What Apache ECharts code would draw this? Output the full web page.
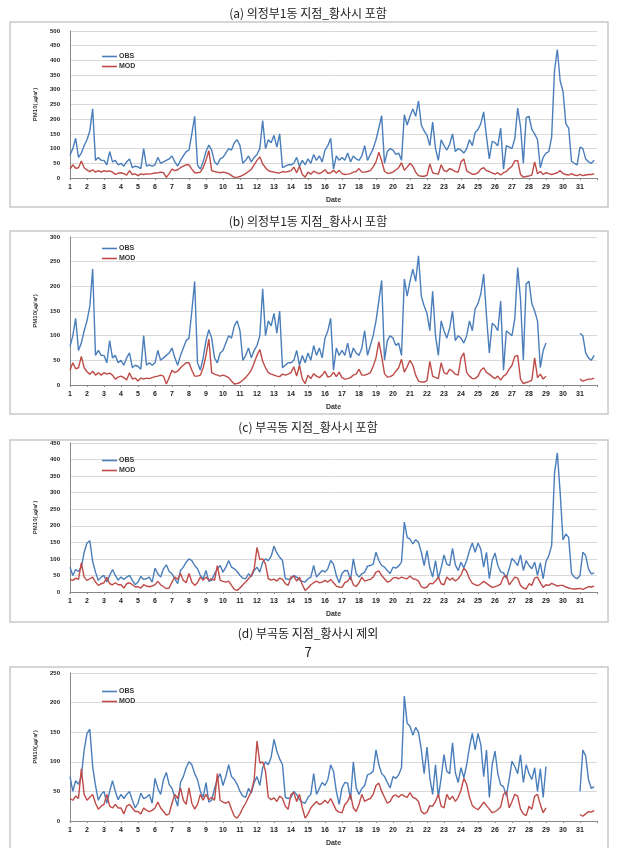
<!DOCTYPE html>
<html>
<head>
<meta charset="utf-8">
<script src="https://cdn.jsdelivr.net/npm/echarts@6/dist/echarts.min.js"></script>
<style>
html,body{margin:0;padding:0;background:#fff;}
#chart{width:617px;height:848px;}
</style>
</head>
<body>
<div id="chart"></div>
<script>
// ---- Data: 6 samples per day (every 4 h), day 1 00h .. day 31 20h ----
const PER_DAY = 6;
const DAY_START = 1;
const dayLabels = Array.from({length: 31}, (_, i) => String(i + 1));
const seriesNames = ['OBS', 'MOD'];
const panelTitles = [
  '(a) 의정부1동 지점_황사시 포함',
  '(b) 의정부1동 지점_황사시 포함',
  '(c) 부곡동 지점_황사시 포함',
  '(d) 부곡동 지점_황사시 제외'
];
const yMaxes = [500, 300, 450, 250];
const dustGap = [29, 31]; // days removed in panels (b) and (d)

// 의정부1동 OBS
const obsA = [
  78,100,135,70,85,110,  130,160,235,60,70,60,  60,45,90,55,60,45,  50,40,55,65,35,40,
  38,32,100,40,45,40,  45,70,50,55,60,65,  75,55,40,60,75,90,  95,150,210,45,30,55,
  90,112,95,55,45,65,  70,85,100,95,120,130,  110,50,60,75,55,70,  80,100,195,100,130,120,
  145,105,150,35,40,45,  45,50,70,40,60,45,  65,50,80,60,75,55,  95,110,135,30,75,60,
  70,60,85,55,75,65,  60,75,110,60,80,100,  130,170,212,50,90,100,  95,80,85,60,215,180,
  210,235,210,262,180,160,  145,110,190,100,60,130,  110,95,115,150,90,100,  95,85,100,130,110,155,
  165,185,225,140,65,125,  120,110,170,30,110,105,  100,135,238,175,50,205,  210,165,150,130,35,70,
  85,90,140,365,437,330,  295,185,170,57,50,45,  105,100,65,55,50,60
];
// 의정부1동 MOD
const modA = [
  30,45,33,35,58,35,  27,22,28,20,25,20,  25,22,24,20,12,16,  18,15,10,25,12,14,
  8,14,12,14,13,15,  17,18,20,18,2,15,  30,25,28,35,40,45,  45,30,18,18,20,35,
  60,93,25,22,20,18,  20,18,15,8,2,3,  5,10,15,22,30,45,  60,72,48,35,25,22,
  20,18,17,22,20,22,  25,37,18,40,12,3,  20,13,23,18,15,20,  28,16,18,26,17,26,
  15,12,13,15,20,22,  32,20,20,22,25,38,  55,88,58,23,16,17,  20,28,35,52,26,37,
  50,40,20,8,6,6,  9,48,18,15,13,45,  25,22,32,28,22,20,  55,65,25,18,13,13,
  18,30,35,25,22,17,  13,18,10,18,22,32,  40,58,60,12,3,5,  7,10,55,15,22,12,
  18,15,12,15,18,25,  15,12,10,15,10,8,  12,8,10,12,12,14
];
// 부곡동 OBS
const obsC = [
  75,50,68,62,75,120,  148,155,92,60,35,45,  50,30,50,68,50,36,  45,38,45,50,35,22,
  30,47,38,40,45,30,  72,55,45,70,82,62,  55,40,25,65,75,90,  100,95,80,70,50,40,
  65,32,35,55,70,80,  60,75,95,75,70,62,  50,42,40,55,47,65,  75,60,90,100,95,108,
  138,118,105,95,40,38,  40,50,45,36,32,30,  40,45,80,45,55,65,  60,70,95,84,50,28,
  56,65,64,36,100,56,  45,55,60,78,80,84,  120,95,80,75,65,56,  75,72,78,90,211,165,
  160,145,158,150,120,80,  125,73,45,95,40,73,  112,84,80,132,82,65,  90,73,95,125,148,120,
  148,129,75,120,40,95,  118,80,61,58,42,70,  101,92,80,112,65,95,  80,70,90,50,88,40,
  92,110,140,358,420,300,  157,175,165,57,45,40,  50,120,110,70,55,58
];
// 부곡동 MOD
const modC = [
  38,35,42,38,88,45,  35,40,45,30,20,25,  28,45,25,22,28,22,  22,12,25,28,22,16,
  16,12,22,18,16,18,  22,32,22,16,10,12,  30,45,38,56,35,28,  56,30,20,28,45,35,
  45,36,40,35,80,35,  32,30,33,20,8,5,  12,22,30,40,50,70,  135,98,100,84,40,36,
  39,33,42,38,25,20,  45,48,33,45,22,5,  12,22,28,33,28,30,  35,30,38,28,18,15,
  14,28,33,45,22,16,  28,45,33,36,38,45,  60,64,50,40,30,33,  42,44,40,45,42,40,
  48,40,38,33,16,12,  15,26,25,33,45,25,  22,45,36,42,33,40,  52,72,62,40,26,22,
  19,25,32,26,20,14,  16,19,24,45,50,22,  33,45,42,20,12,9,  25,20,42,45,28,14,
  22,20,26,22,18,20,  20,15,12,10,9,10,  11,8,12,16,15,18
];

// ---- Layout ----
const panelData = [
  {obs: obsA, mod: modA, gap: false},
  {obs: obsA, mod: modA, gap: true},
  {obs: obsC, mod: modC, gap: false},
  {obs: obsC, mod: modC, gap: true}
];
const layout = [
  {titleY: 13, box: [10, 22, 598, 185], top: 31, h: 147, legTop: 48},
  {titleY: 221, box: [10, 231, 598, 183], top: 237, h: 148, legTop: 240},
  {titleY: 427, box: [10, 440, 598, 182], top: 443, h: 149, legTop: 452},
  {titleY: 633, box: [10, 667, 598, 200], top: 673, h: 148, legTop: 683}
];
const COL_OBS = '#4a7ebb';
const COL_MOD = '#be4b48';
const NUM_FONT = '"Liberation Sans", Arial, sans-serif';
const KR_FONT = '"Noto Sans CJK KR", sans-serif';

function toPairs(vals, gap) {
  return vals.map((v, i) => {
    const t = DAY_START + i / PER_DAY;
    const hidden = gap && t > dustGap[0] + 0.01 && t < dustGap[1] - 0.01;
    return [t, hidden ? '-' : v];
  });
}

const grids = [], xAxes = [], yAxes = [], series = [], legends = [], graphics = [];
layout.forEach((L, p) => {
  grids.push({left: 70, right: 20, top: L.top, height: L.h, outerBoundsMode: 'none', containLabel: false});
  xAxes.push({
    type: 'value', gridIndex: p, min: 1, max: 32, interval: 1,
    name: 'Date', nameLocation: 'middle', nameGap: 19,
    nameTextStyle: {fontFamily: NUM_FONT, fontSize: 7, fontWeight: 'bold', color: '#333'},
    axisLine: {show: true, onZero: false, lineStyle: {color: '#888', width: 1}},
    axisTick: {show: true, length: 2, lineStyle: {color: '#888'}},
    axisLabel: {
      fontFamily: NUM_FONT, fontSize: 7, fontWeight: 'bold', color: '#222', margin: 6,
      formatter: v => { const k = Math.round(v); return (k >= 1 && k <= 31) ? dayLabels[k - 1] : ''; }
    },
    splitLine: {show: false}
  });
  yAxes.push({
    type: 'value', gridIndex: p, min: 0, max: yMaxes[p], interval: 50,
    name: 'PM10(㎍/㎥)', nameLocation: 'middle', nameRotate: 90, nameGap: 32,
    nameTextStyle: {fontFamily: NUM_FONT, fontSize: 6, fontWeight: 'bold', color: '#333'},
    axisLine: {show: true, lineStyle: {color: '#888', width: 1}},
    axisTick: {show: false},
    axisLabel: {fontFamily: NUM_FONT, fontSize: 6, fontWeight: 'bold', color: '#222', margin: 10},
    splitLine: {show: true, lineStyle: {color: '#d9d9d9', width: 1}}
  });
  const D = panelData[p];
  series.push({
    name: seriesNames[0], type: 'line', xAxisIndex: p, yAxisIndex: p,
    data: toPairs(D.obs, D.gap), showSymbol: false, symbol: 'none', connectNulls: false,
    lineStyle: {color: COL_OBS, width: 1.4}, itemStyle: {color: COL_OBS}, z: 3, animation: false
  });
  series.push({
    name: seriesNames[1], type: 'line', xAxisIndex: p, yAxisIndex: p,
    data: toPairs(D.mod, D.gap), showSymbol: false, symbol: 'none', connectNulls: false,
    lineStyle: {color: COL_MOD, width: 1.4}, itemStyle: {color: COL_MOD}, z: 4, animation: false
  });
  legends.push({
    data: seriesNames, orient: 'vertical', left: 97, top: L.legTop,
    icon: 'rect', itemWidth: 15, itemHeight: 1.6, itemGap: 3,
    textStyle: {fontFamily: NUM_FONT, fontSize: 7, fontWeight: 'bold', color: '#333', padding: [0, 0, 0, -3]},
    selectedMode: false
  });
  graphics.push({
    type: 'rect', silent: true, z: -1,
    shape: {x: L.box[0], y: L.box[1], width: L.box[2], height: L.box[3]},
    style: {fill: '#fff', stroke: '#c8c8c8', lineWidth: 1.5}
  });
  graphics.push({
    type: 'text', silent: true, x: 308, y: L.titleY,
    style: {text: panelTitles[p], font: '12px ' + KR_FONT, fill: '#222', textAlign: 'center', textVerticalAlign: 'middle'}
  });
});
graphics.push({
  type: 'text', silent: true, x: 308, y: 652,
  style: {text: '7', font: '13px ' + KR_FONT, fill: '#222', textAlign: 'center', textVerticalAlign: 'middle'}
});

const chart = echarts.init(document.getElementById('chart'), null, {renderer: 'canvas'});
chart.setOption({
  backgroundColor: '#fff',
  animation: false,
  grid: grids,
  xAxis: xAxes,
  yAxis: yAxes,
  legend: legends,
  series: series,
  graphic: graphics
});
</script>
</body>
</html>
